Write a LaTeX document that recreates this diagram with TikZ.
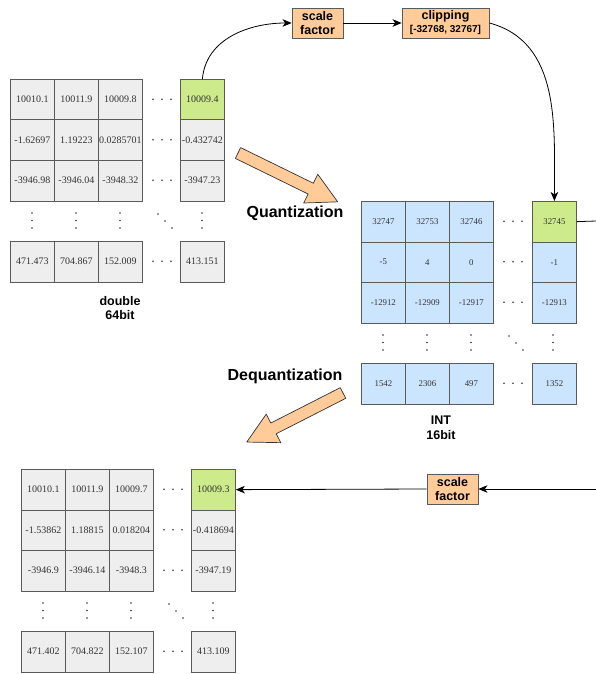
\documentclass[tikz,border=0pt]{standalone}
\usepackage{fontspec}
\setmainfont{Liberation Serif}
\newfontfamily\labfont{Liberation Sans}
\usetikzlibrary{arrows.meta}
\definecolor{lgray}{HTML}{EEEEEE}
\definecolor{lgreen}{HTML}{CDEB8B}
\definecolor{lblue}{HTML}{CCE5FF}
\definecolor{lorange}{HTML}{FFCC99}
\definecolor{bordc}{HTML}{5A5A5A}
\definecolor{txtc}{HTML}{333333}
\newcommand\matdots{%
  \foreach \yy in {20.25,60.75,101.25,182.25}{\foreach \xx in {143,152,161}{\fill[txtc] (\xx,\yy) circle[radius=0.9pt];}}
  \foreach \xx in {22,66,110,192}{\foreach \yy in {134,141.5,149}{\fill[txtc] (\xx,\yy) circle[radius=0.9pt];}}
  \fill[txtc] (148,135) circle[radius=0.9pt] (155,142) circle[radius=0.9pt] (162,149) circle[radius=0.9pt];
}
\begin{document}
\begin{tikzpicture}[x=1pt,y=-1pt,
  cell/.style={draw=bordc, line width=0.8pt, minimum width=44pt, minimum height=40.5pt, inner sep=0pt, anchor=north west, text=txtc},
  dbl/.style={cell, font=\fontsize{10}{12}\selectfont},
  ints/.style={cell, font=\fontsize{8.8}{10}\selectfont},
  obox/.style={draw=bordc, line width=0.8pt, fill=lorange, inner sep=0pt, align=center, font=\labfont\bfseries\fontsize{12.5}{14}\selectfont},
  lab/.style={font=\labfont\bfseries\fontsize{12.5}{14.5}\selectfont, align=center},
  biglab/.style={font=\labfont\bfseries\fontsize{16}{18}\selectfont},
  conn/.style={line width=0.8pt, -{Stealth[length=9pt,width=7.5pt,inset=2.5pt]}},
  plain/.style={line width=0.8pt},
  bigarrow/.style={draw=black!80, line width=0.7pt, fill=lorange, line join=round}]
\path[use as bounding box, fill=white] (0,0) rectangle (596,674);

% ---------- matrix A (double) ----------
\begin{scope}[shift={(10,79)}]
\foreach \r/\yy/\a/\b/\c/\d in {1/0/10010.1/10011.9/10009.8/10009.4,
    2/40.5/-1.62697/1.19223/0.0285701/-0.432742,
    3/81/-3946.98/-3946.04/-3948.32/-3947.23,
    4/162/471.473/704.867/152.009/413.151}{
  \ifnum\r=1 \def\lf{lgreen}\else\def\lf{lgray}\fi
  \node[dbl,fill=lgray] (A-\r-1) at (0,\yy) {\a};
  \node[dbl,fill=lgray] (A-\r-2) at (44,\yy) {\b};
  \node[dbl,fill=lgray] (A-\r-3) at (88,\yy) {\c};
  \node[dbl,fill=\lf] (A-\r-4) at (170,\yy) {\d};
}
\matdots
\end{scope}
\node[lab] (Alab) at (120,308) {double\\64bit};

% ---------- matrix B (INT) ----------
\begin{scope}[shift={(361,201)}]
\foreach \r/\yy/\a/\b/\c/\d in {1/0/32747/32753/32746/32745,
    2/40.5/-5/4/0/-1,
    3/81/-12912/-12909/-12917/-12913,
    4/162/1542/2306/497/1352}{
  \ifnum\r=1 \def\lf{lgreen}\else\def\lf{lblue}\fi
  \node[ints,fill=lblue] (B-\r-1) at (0,\yy) {\a};
  \node[ints,fill=lblue] (B-\r-2) at (44,\yy) {\b};
  \node[ints,fill=lblue] (B-\r-3) at (88,\yy) {\c};
  \node[ints,fill=\lf] (B-\r-4) at (171,\yy) {\d};
}
\matdots
\end{scope}
\node[lab] (Blab) at (441,428) {INT\\16bit};

% ---------- matrix C (double, dequantized) ----------
\begin{scope}[shift={(21,469)}]
\foreach \r/\yy/\a/\b/\c/\d in {1/0/10010.1/10011.9/10009.7/10009.3,
    2/40.5/-1.53862/1.18815/0.018204/-0.418694,
    3/81/-3946.9/-3946.14/-3948.3/-3947.19,
    4/162/471.402/704.822/152.107/413.109}{
  \ifnum\r=1 \def\lf{lgreen}\else\def\lf{lgray}\fi
  \node[dbl,fill=lgray] (C-\r-1) at (0,\yy) {\a};
  \node[dbl,fill=lgray] (C-\r-2) at (44,\yy) {\b};
  \node[dbl,fill=lgray] (C-\r-3) at (88,\yy) {\c};
  \node[dbl,fill=\lf] (C-\r-4) at (170,\yy) {\d};
}
\matdots
\end{scope}

% ---------- boxes ----------
\node[obox, minimum width=51pt, minimum height=30pt] (sf1) at (317.5,23) {scale\\factor};
\node[obox, minimum width=87pt, minimum height=30pt] (clip) at (445.5,23) {clipping\\[-1pt]{\fontsize{10}{11}\selectfont[-32768, 32767]}};
\node[obox, minimum width=51pt, minimum height=30pt] (sf2) at (452.5,489) {scale\\factor};

% ---------- connectors ----------
\coordinate (r1) at (596,221);
\coordinate (r2) at (596,489);
\draw[conn] (A-1-4.north) to[out=85,in=180] (sf1.west);
\draw[conn] (sf1.east) -- (clip.west);
\draw[conn] (clip.east) to[out=-15,in=90] (B-1-4.north);
\draw[plain] (B-1-4.east) -- (r1);
\draw[conn] (r2) -- (sf2.east);
\draw[conn] (sf2.west) -- (C-1-4.east);

% ---------- big arrows and labels ----------
\begin{scope}[shift={(238,153)}, rotate=-26.1]
\draw[bigarrow] (0,-6) -- (81,-6) -- (81,-16) -- (111,0) -- (81,16) -- (81,6) -- (0,6) -- cycle;
\end{scope}
\node[biglab] (qlab) at (295,213) {Quantization};
\begin{scope}[shift={(343,393)}, rotate=-153]
\draw[bigarrow] (0,-6) -- (78,-6) -- (78,-16) -- (108,0) -- (78,16) -- (78,6) -- (0,6) -- cycle;
\end{scope}
\node[biglab] (dqlab) at (285,376) {Dequantization};
\end{tikzpicture}
\end{document}
